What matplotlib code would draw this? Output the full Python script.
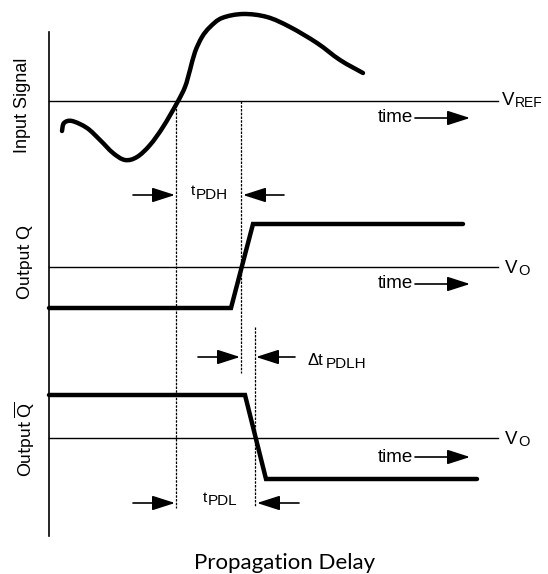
import matplotlib
matplotlib.use("Agg")
import matplotlib.pyplot as plt
from matplotlib.path import Path
from matplotlib.patches import PathPatch
import numpy as np

plt.rcParams['mathtext.fontset'] = 'custom'
plt.rcParams['mathtext.rm'] = 'Lato'

# ---- data (diagram units: time to the right, level downward) ----
input_time = [62, 64, 72, 87, 100, 113, 125, 137, 150, 163, 177, 185, 190, 195, 202, 210, 222, 243, 267, 290, 317, 340, 363]
input_level = [131, 123, 121, 128, 140, 153, 160, 157, 145, 127, 103, 87, 70, 52, 37, 27, 18, 14, 17, 27, 43, 60, 73]
q_time = [49, 231, 253, 463]
q_level = [308, 308, 224, 224]
qbar_time = [49, 245, 266, 477]
qbar_level = [395, 395, 479, 479]
ref_levels = [101, 267, 438]          # VREF, VO, VO
time_arrow_levels = [118, 284, 457]
row_labels = ["Input Signal", "Output Q", r"Output $\overline{\mathrm{Q}}$"]
row_label_centres = [105, 262, 439]
marker_times = [176, 241, 255]
marker_spans = [(101, 508), (101, 373), (327, 506)]

fig = plt.figure(figsize=(5.48, 5.74), dpi=100)
ax = fig.add_axes([0, 0, 1, 1])
ax.set_xlim(0, 548)
ax.set_ylim(574, 0)
ax.axis('off')

# vertical axis
ax.plot([49, 49], [32, 536], color='k', lw=1.2)

def arrow(x0, x1, y):
    ax.annotate('', xy=(x1, y), xytext=(x0, y),
                arrowprops=dict(arrowstyle='-|>,head_length=1.4,head_width=0.45',
                                mutation_scale=10, lw=1.2, color='k',
                                shrinkA=0, shrinkB=0))

# reference lines
for lvl in ref_levels:
    ax.plot([49, 498], [lvl, lvl], color='k', lw=1.0)
for lvl in time_arrow_levels:
    ax.text(413, lvl, "time", ha='right', va='center', fontsize=13.5,
            family='Liberation Sans')
    arrow(415, 470, lvl)

# ref labels
ax.text(502, 105, "V", ha='left', va='baseline', fontsize=13.5, family='Liberation Sans')
ax.text(515, 107, "REF", ha='left', va='baseline', fontsize=10, family='Liberation Sans')
for lvl in ref_levels[1:]:
    ax.text(505, lvl + 6, "V", ha='left', va='baseline', fontsize=13.5, family='Liberation Sans')
    ax.text(518, lvl + 8, "O", ha='left', va='baseline', fontsize=10.5, family='Liberation Sans')

# input curve (Catmull-Rom -> cubic Bezier)
P = np.column_stack([input_time, input_level]).astype(float)
verts = [tuple(P[0])]
codes = [Path.MOVETO]
for i in range(len(P) - 1):
    p0 = P[i - 1] if i > 0 else P[i]
    p1 = P[i]
    p2 = P[i + 1]
    p3 = P[i + 2] if i + 2 < len(P) else P[i + 1]
    c1 = p1 + (p2 - p0) / 6.0
    c2 = p2 - (p3 - p1) / 6.0
    verts += [tuple(c1), tuple(c2), tuple(p2)]
    codes += [Path.CURVE4] * 3
ax.add_patch(PathPatch(Path(verts, codes), fill=False, lw=3.2, edgecolor='k',
                       capstyle='round', joinstyle='round'))

# outputs
ax.plot(q_time, q_level, color='k', lw=3.2, solid_capstyle='round', solid_joinstyle='miter')
ax.plot(qbar_time, qbar_level, color='k', lw=3.2, solid_capstyle='round', solid_joinstyle='miter')

# dotted markers
for t, (y0, y1) in zip(marker_times, marker_spans):
    ax.plot([t, t], [y0, y1], color='k', lw=0.9, linestyle=(0, (2, 1)))

arrow(133, 175, 195); arrow(284, 243, 195)
arrow(198, 240, 357); arrow(295, 256, 357)
arrow(133, 175, 503); arrow(299, 257, 503)

sub = dict(ha='left', va='baseline', family='Liberation Sans')
ax.text(191, 195, "t", fontsize=11, **sub)
ax.text(196, 199, "PDH", fontsize=11, **sub)
ax.text(307, 365, "\u0394t", fontsize=12, **sub)
ax.text(326, 368, "PDLH", fontsize=11, **sub)
ax.text(203, 502, "t", fontsize=11, **sub)
ax.text(208, 505, "PDL", fontsize=11, **sub)

# row labels
ax.text(23, row_label_centres[0], row_labels[0], rotation=90, ha='center', va='center',
        fontsize=13, family='Liberation Sans')
for lab, yc in zip(row_labels[1:], row_label_centres[1:]):
    ax.text(25, yc, lab, rotation=90, ha='center', va='center', fontsize=12.5,
            family='Lato')

ax.text(285, 563, "Propagation Delay", ha='center', va='center', fontsize=16,
        family='Lato')

fig.savefig("out.png", dpi=100)
